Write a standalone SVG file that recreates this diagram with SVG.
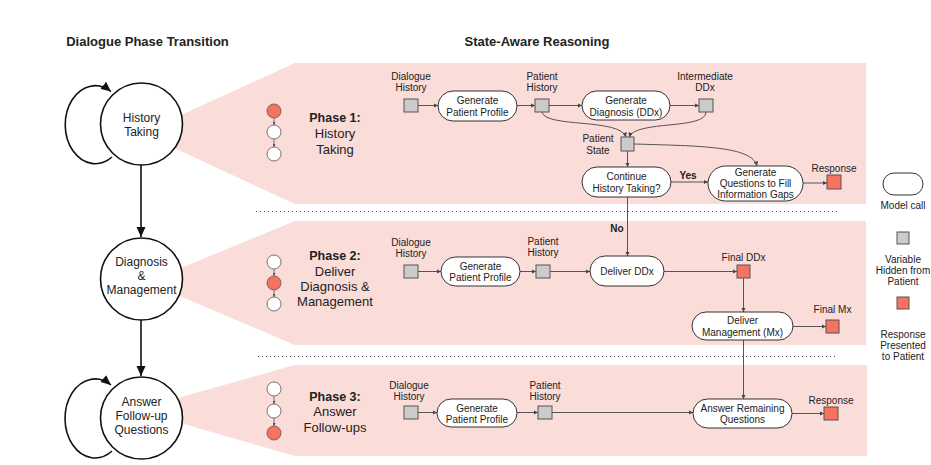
<svg xmlns="http://www.w3.org/2000/svg" width="931" height="465" viewBox="0 0 931 465">
<style>
text{font-family:"Liberation Sans",Arial,sans-serif;fill:#222;text-anchor:middle}
.t10{font-size:10px}
.b10{font-size:10px;font-weight:bold}
.c12{font-size:12px}
.ph{font-size:13px}
.phb{font-size:12.5px;font-weight:bold}
.title{font-size:13px;font-weight:bold}
.band{fill:#fadcd9}
.pill{fill:#fff;stroke:#333;stroke-width:1}
.var{fill:#cbcbcb;stroke:#555;stroke-width:1}
.resp{fill:#f7735f;stroke:#555;stroke-width:1}
.big{fill:#fff;stroke:#111;stroke-width:1.6}
.mini{fill:#fff;stroke:#555;stroke-width:0.8}
.minired{fill:#f7735f;stroke:#555;stroke-width:0.8}
.edge{fill:none;stroke:#444;stroke-width:0.9;marker-end:url(#arr)}
.line{fill:none;stroke:#444;stroke-width:0.9}
.main{fill:none;stroke:#111;stroke-width:1.6;marker-end:url(#arrBig)}
.dot{stroke:#555;stroke-width:1;stroke-dasharray:1 3}
</style>
<defs>
<marker id="arr" viewBox="0 0 10 10" refX="10" refY="5" markerWidth="4.5" markerHeight="4.5" markerUnits="userSpaceOnUse" orient="auto"><path d="M0,0L10,5L0,10z" fill="#444"/></marker>
<marker id="arrBig" viewBox="0 0 10 10" refX="10" refY="5" markerWidth="10" markerHeight="10" markerUnits="userSpaceOnUse" orient="auto"><path d="M0,0.5L10,5L0,9.5z" fill="#111"/></marker>
<marker id="arrMini" viewBox="0 0 10 10" refX="10" refY="5" markerWidth="3" markerHeight="3" markerUnits="userSpaceOnUse" orient="auto"><path d="M0,0L10,5L0,10z" fill="#555"/></marker>
</defs>

<g id="titles">
<text class="title" x="147.5" y="46">Dialogue Phase Transition</text>
<text class="title" x="537" y="46">State-Aware Reasoning</text>
</g>

<g id="bands">
<polygon class="band" points="142,133 295,63 866,63 866,204 295,204"/>
<polygon class="band" points="147,282 295,221 866,221 866,345 295,345"/>
<polygon class="band" points="135,410 295,365 867,365 867,456 295,456"/>
<line class="dot" x1="256" y1="211.5" x2="838" y2="211.5"/>
<line class="dot" x1="258" y1="356.5" x2="838" y2="356.5"/>
</g>

<g id="left-connectors">
<path class="main" d="M112,157 A30,39 0 1 1 111,91.5"/>
<path class="main" d="M141,165 L141,237"/>
<path class="main" d="M141,320 L141,376"/>
<path class="main" d="M112,451 A30,39.5 0 1 1 111,385"/>
</g>

<g id="state-history">
<circle class="big" cx="141.5" cy="124" r="41"/>
<text class="c12" x="141.5" y="122">History</text>
<text class="c12" x="141.5" y="136">Taking</text>
</g>
<g id="state-diagnosis">
<circle class="big" cx="141.5" cy="279" r="41"/>
<text class="c12" x="141.5" y="266">Diagnosis</text>
<text class="c12" x="141.5" y="280">&amp;</text>
<text class="c12" x="141.5" y="294">Management</text>
</g>
<g id="state-answer">
<circle class="big" cx="141.5" cy="418" r="41"/>
<text class="c12" x="141.5" y="406">Answer</text>
<text class="c12" x="141.5" y="420">Follow-up</text>
<text class="c12" x="141.5" y="434">Questions</text>
</g>

<g id="phase-indicators">
<line x1="274" y1="118" x2="274" y2="125" stroke="#555" stroke-width="0.8" marker-end="url(#arrMini)"/>
<line x1="274" y1="139" x2="274" y2="147" stroke="#555" stroke-width="0.8" marker-end="url(#arrMini)"/>
<circle class="minired" cx="274" cy="111" r="7"/>
<circle class="mini" cx="274" cy="132" r="7"/>
<circle class="mini" cx="274" cy="154" r="7"/>

<line x1="274" y1="269" x2="274" y2="276" stroke="#555" stroke-width="0.8" marker-end="url(#arrMini)"/>
<line x1="274" y1="290" x2="274" y2="297" stroke="#555" stroke-width="0.8" marker-end="url(#arrMini)"/>
<circle class="mini" cx="274" cy="262" r="7"/>
<circle class="minired" cx="274" cy="283" r="7"/>
<circle class="mini" cx="274" cy="304" r="7"/>

<line x1="274" y1="396" x2="274" y2="404" stroke="#555" stroke-width="0.8" marker-end="url(#arrMini)"/>
<line x1="274" y1="418" x2="274" y2="426" stroke="#555" stroke-width="0.8" marker-end="url(#arrMini)"/>
<circle class="mini" cx="274" cy="389" r="7"/>
<circle class="mini" cx="274" cy="411" r="7"/>
<circle class="minired" cx="274" cy="433" r="7"/>
</g>

<g id="phase-labels">
<text class="phb" x="335" y="122">Phase 1:</text>
<text class="ph" x="335" y="138">History</text>
<text class="ph" x="335" y="154">Taking</text>
<text class="phb" x="335" y="260">Phase 2:</text>
<text class="ph" x="335" y="276">Deliver</text>
<text class="ph" x="335" y="291">Diagnosis &amp;</text>
<text class="ph" x="335" y="306">Management</text>
<text class="phb" x="335" y="401">Phase 3:</text>
<text class="ph" x="335" y="416">Answer</text>
<text class="ph" x="335" y="432">Follow-ups</text>
</g>

<g id="connectors">
<path class="edge" d="M418,105.5 L438,105.5"/>
<path class="edge" d="M517,105.5 L535,105.5"/>
<path class="edge" d="M549,105.5 L582,105.5"/>
<path class="edge" d="M670,105.5 L699,105.5"/>
<path class="edge" d="M542,112 C545,128 620,118 626,137"/>
<path class="edge" d="M706,112 C706,130 636,120 629,137"/>
<path class="edge" d="M634,144 C700,146 752,146 757,166"/>
<path class="edge" d="M627.5,151 L627.5,167"/>
<path class="edge" d="M671,182 L708,182"/>
<path class="edge" d="M803,183 L827,183"/>
<path class="edge" d="M627.5,197 L627.5,256"/>
<text class="b10" x="688" y="179">Yes</text>
<text class="b10" x="617" y="232">No</text>

<path class="edge" d="M418,271.5 L441,271.5"/>
<path class="edge" d="M520,271.5 L536,271.5"/>
<path class="edge" d="M550,271.5 L590,271.5"/>
<path class="edge" d="M664,271.5 L737,271.5"/>
<path class="edge" d="M743.5,278 L743.5,312"/>
<path class="edge" d="M793,326.5 L826,326.5"/>
<path class="edge" d="M743.5,340 L743.5,399"/>

<path class="edge" d="M418,412.5 L437,412.5"/>
<path class="edge" d="M517,412.5 L538,412.5"/>
<path class="edge" d="M552,412.5 L693,412.5"/>
<path class="edge" d="M792,413.5 L824,413.5"/>
</g>

<g id="p1-dialogue-history">
<rect class="var" x="404" y="99" width="14" height="13"/>
<text class="t10" x="411" y="80">Dialogue</text>
<text class="t10" x="411" y="91">History</text>
</g>
<g id="p1-gen-profile">
<rect class="pill" x="438" y="91" width="79" height="30" rx="15"/>
<text class="t10" x="477.5" y="104">Generate</text>
<text class="t10" x="477.5" y="115.5">Patient Profile</text>
</g>
<g id="p1-patient-history">
<rect class="var" x="535" y="99" width="14" height="13"/>
<text class="t10" x="542" y="80">Patient</text>
<text class="t10" x="542" y="91">History</text>
</g>
<g id="p1-gen-diagnosis">
<rect class="pill" x="582" y="91" width="88" height="29" rx="14.5"/>
<text class="t10" x="626" y="104">Generate</text>
<text class="t10" x="626" y="115.5">Diagnosis (DDx)</text>
</g>
<g id="p1-intermediate-ddx">
<rect class="var" x="699" y="99" width="14" height="13"/>
<text class="t10" x="705" y="80">Intermediate</text>
<text class="t10" x="705" y="91">DDx</text>
</g>
<g id="p1-patient-state">
<rect class="var" x="621" y="137" width="13" height="14"/>
<text class="t10" x="598" y="142">Patient</text>
<text class="t10" x="598" y="153.5">State</text>
</g>
<g id="p1-continue">
<rect class="pill" x="582" y="167" width="89" height="30" rx="15"/>
<text class="t10" x="626.5" y="180">Continue</text>
<text class="t10" x="626.5" y="191.5">History Taking?</text>
</g>
<g id="p1-gen-questions">
<rect class="pill" x="708" y="166" width="95" height="35" rx="17.5"/>
<text class="t10" x="755.5" y="175.5">Generate</text>
<text class="t10" x="755.5" y="186.5">Questions to Fill</text>
<text class="t10" x="755.5" y="197.5">Information Gaps</text>
</g>
<g id="p1-response">
<rect class="resp" x="827" y="175" width="14" height="14"/>
<text class="t10" x="834" y="172">Response</text>
</g>

<g id="p2-dialogue-history">
<rect class="var" x="404" y="265" width="14" height="13"/>
<text class="t10" x="411" y="246">Dialogue</text>
<text class="t10" x="411" y="257">History</text>
</g>
<g id="p2-gen-profile">
<rect class="pill" x="441" y="257" width="79" height="29" rx="14.5"/>
<text class="t10" x="480.5" y="269.5">Generate</text>
<text class="t10" x="480.5" y="281">Patient Profile</text>
</g>
<g id="p2-patient-history">
<rect class="var" x="536" y="265" width="14" height="13"/>
<text class="t10" x="543" y="245">Patient</text>
<text class="t10" x="543" y="256">History</text>
</g>
<g id="p2-deliver-ddx">
<rect class="pill" x="590" y="256" width="74" height="30" rx="15"/>
<text class="t10" x="627" y="274.5">Deliver DDx</text>
</g>
<g id="p2-final-ddx">
<rect class="resp" x="737" y="265" width="13" height="13"/>
<text class="t10" x="743.5" y="261">Final DDx</text>
</g>
<g id="p2-deliver-mx">
<rect class="pill" x="692" y="312" width="101" height="28" rx="14"/>
<text class="t10" x="742.5" y="323.5">Deliver</text>
<text class="t10" x="742.5" y="335.5">Management (Mx)</text>
</g>
<g id="p2-final-mx">
<rect class="resp" x="826" y="320" width="13" height="13"/>
<text class="t10" x="832.5" y="313">Final Mx</text>
</g>

<g id="p3-dialogue-history">
<rect class="var" x="404" y="406" width="14" height="13"/>
<text class="t10" x="409" y="388.5">Dialogue</text>
<text class="t10" x="409" y="400">History</text>
</g>
<g id="p3-gen-profile">
<rect class="pill" x="437" y="399" width="80" height="28" rx="14"/>
<text class="t10" x="477" y="411.5">Generate</text>
<text class="t10" x="477" y="422.5">Patient Profile</text>
</g>
<g id="p3-patient-history">
<rect class="var" x="538" y="406" width="14" height="13"/>
<text class="t10" x="545" y="388.5">Patient</text>
<text class="t10" x="545" y="400">History</text>
</g>
<g id="p3-answer-remaining">
<rect class="pill" x="693" y="399" width="99" height="29" rx="14.5"/>
<text class="t10" x="742.5" y="411.5">Answer Remaining</text>
<text class="t10" x="742.5" y="423">Questions</text>
</g>
<g id="p3-response">
<rect class="resp" x="824" y="407" width="14" height="13"/>
<text class="t10" x="831" y="403.5">Response</text>
</g>

<g id="legend">
<rect class="pill" x="883" y="173" width="40" height="22" rx="11"/>
<text class="t10" x="903" y="208.5">Model call</text>
<rect class="var" x="897" y="232" width="12" height="12"/>
<text class="t10" x="903" y="262.5">Variable</text>
<text class="t10" x="903" y="273.5">Hidden from</text>
<text class="t10" x="903" y="284.5">Patient</text>
<rect class="resp" x="897" y="297" width="12" height="12"/>
<text class="t10" x="903" y="337.5">Response</text>
<text class="t10" x="903" y="348.5">Presented</text>
<text class="t10" x="903" y="359.5">to Patient</text>
</g>
</svg>
